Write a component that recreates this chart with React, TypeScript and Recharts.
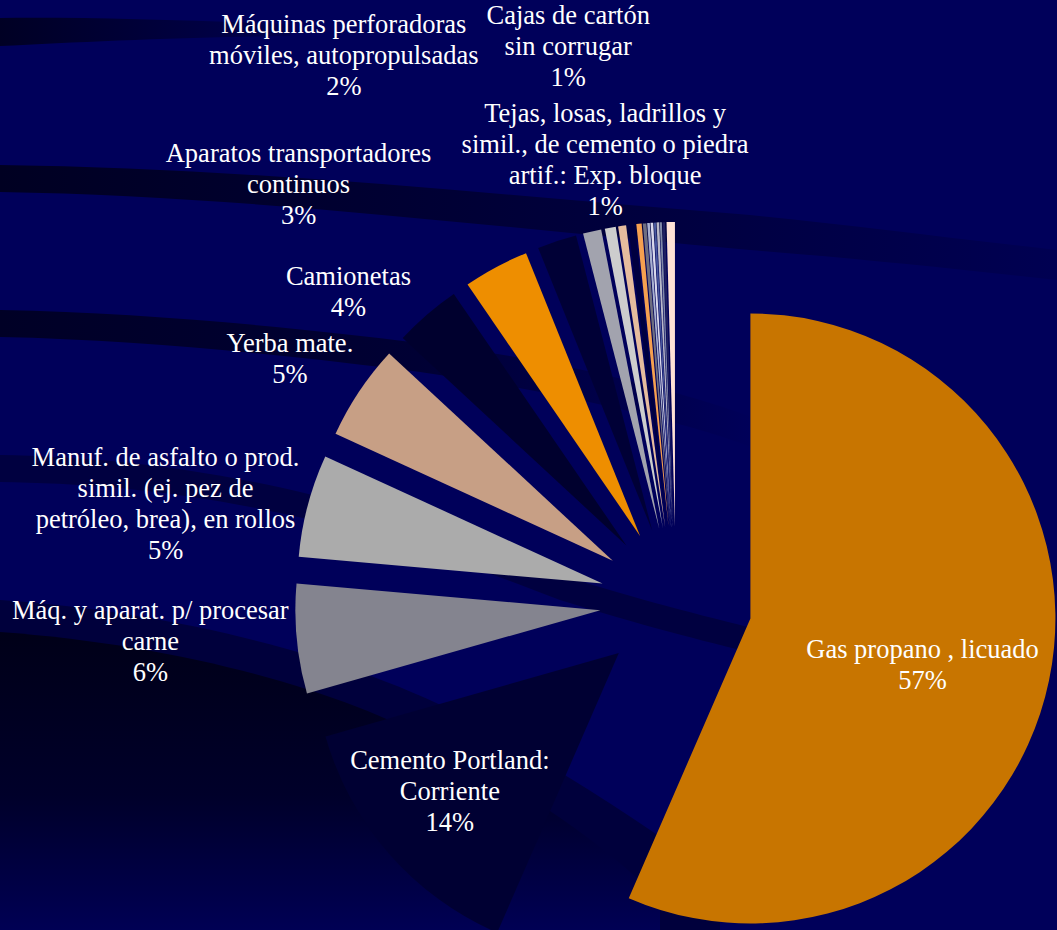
import { PieChart, Pie, Sector } from "recharts";

const CATEGORIES = [
  "Gas propano , licuado",
  "Cemento Portland:\nCorriente",
  "Máq. y aparat. p/ procesar\ncarne",
  "Manuf. de asfalto o prod.\nsimil. (ej. pez de\npetróleo, brea), en rollos",
  "Yerba mate.",
  "Camionetas",
  "Aparatos transportadores\ncontinuos",
  "Máquinas perforadoras\nmóviles, autopropulsadas",
  "Cajas de cartón\nsin corrugar",
  "Tejas, losas, ladrillos y\nsimil., de cemento o piedra\nartif.: Exp. bloque",
  "Otros 1",
  "Otros 2",
  "Otros 3",
  "Otros 4",
  "Otros 5",
  "Otros 6",
  "Otros 7",
  "Otros 8",
  "Otros 9",
  "Otros 10",
  "Otros 11",
];

// participación (%)
const VALUES = [
  56.53, 14.06, 5.81, 5.44, 5.06, 3.53, 3.47, 2.08, 0.97, 0.58,
  0.42, 0.36, 0.28, 0.19, 0.14, 0.14, 0.11, 0.14, 0.11, 0.14, 0.44,
];

const COLORS = [
  "#C87500", "#000033", "#84848F", "#ABABAB", "#C79F85", "#00002E", "#EE8E00",
  "#000036", "#A2A3AE", "#CDCDCD", "#E6BC9E", "#000040", "#F5A050", "#6E6E80",
  "#A8B0D0", "#D8D8EC", "#4858A0", "#B8B8C8", "#8088A8", "#202060", "#FFE2D6",
];

const SHOW_LABEL = [true, true, true, true, true, true, true, true, true, true];

const data = CATEGORIES.map((name, i) => ({ name, value: VALUES[i] }));

const EXPLODE = 76;
const LINE_H = 31;
// [radio, desplazamiento angular] de cada etiqueta
const LABEL_PLACE: [number, number][] = [
  [254, -2.15],
  [294, -1.45],
  [527, -1.3],
  [520, 3.84],
  [457, 1.4],
  [452, 5.63],
  [564, 13.8],
  [641, 13.0],
  [567, -1.77],
  [449, -0.85],
];

const renderSlice = (props: any) => {
  const { cx, cy, midAngle, startAngle, endAngle, outerRadius, index, percent, name } = props;
  const rad = (-midAngle * Math.PI) / 180;
  const sx = cx + EXPLODE * Math.cos(rad);
  const sy = cy + EXPLODE * Math.sin(rad);
  let text = null;
  if (SHOW_LABEL[index]) {
    const [r, da] = LABEL_PLACE[index];
    const a = (-(midAngle + da) * Math.PI) / 180;
    const lx = cx + r * Math.cos(a);
    const ly = cy + r * Math.sin(a);
    const lines = [...String(name).split("\n"), `${Math.round(percent * 100)}%`];
    const y0 = ly - ((lines.length - 1) * LINE_H) / 2;
    text = (
      <text
        textAnchor="middle"
        dominantBaseline="central"
        fill="#ffffff"
        fontFamily="'Liberation Serif', 'Times New Roman', serif"
        fontSize={26.5}
      >
        {lines.map((l, k) => (
          <tspan key={k} x={lx} y={y0 + k * LINE_H}>
            {l}
          </tspan>
        ))}
      </text>
    );
  }
  return (
    <g key={`slice-${index}`}>
      <Sector
        cx={sx}
        cy={sy}
        innerRadius={0}
        outerRadius={outerRadius}
        startAngle={startAngle}
        endAngle={endAngle}
        fill={COLORS[index]}
        stroke="none"
      />
      {text}
    </g>
  );
};

function Backdrop() {
  return (
    <svg width={1057} height={930} style={{ position: "absolute", left: 0, top: 0 }}>
      <defs>
        <linearGradient id="bandB" x1="0" y1="0" x2="1" y2="0">
          <stop offset="0" stopColor="#000022" />
          <stop offset="0.45" stopColor="#000036" />
          <stop offset="1" stopColor="#000052" />
        </linearGradient>
        <linearGradient id="bandC" x1="0" y1="0" x2="1" y2="0">
          <stop offset="0" stopColor="#000026" />
          <stop offset="0.55" stopColor="#000034" />
          <stop offset="1" stopColor="#00005A" />
        </linearGradient>
        <linearGradient id="bandA" x1="0" y1="0" x2="1" y2="0">
          <stop offset="0" stopColor="#000024" />
          <stop offset="1" stopColor="#00004E" />
        </linearGradient>
        <linearGradient id="deep" x1="0" y1="0" x2="0" y2="1">
          <stop offset="0" stopColor="#000018" />
          <stop offset="0.55" stopColor="#00002A" />
          <stop offset="1" stopColor="#000054" />
        </linearGradient>
      </defs>
      <rect width={1057} height={930} fill="#00005A" />
      <path d="M0,18 C80,17 180,20 290,24 L290,36 C180,37 80,42 0,46 Z" fill="url(#bandA)" />
      <path
        d="M0,165 C250,168 500,195 750,215 C850,225 950,238 1057,250 L1057,280 C950,268 850,258 750,250 C500,228 250,196 0,192 Z"
        fill="url(#bandB)"
      />
      <path d="M0,310 C150,313 300,328 420,343 C560,360 680,390 760,420 L760,450 C680,420 560,392 420,372 C300,357 150,340 0,337 Z" fill="url(#bandC)" />
      <path d="M0,455 C150,458 320,480 560,575 C640,600 700,615 760,630 L760,655 C700,640 640,625 560,600 C320,505 150,484 0,482 Z" fill="#000040" />
      <path d="M0,600 C180,612 360,660 470,720 C560,770 640,820 720,880 L720,930 L0,930 Z" fill="#00003C" />
      <path d="M0,632 C180,645 340,690 440,745 C530,795 600,840 660,900 L660,930 L0,930 Z" fill="url(#deep)" />
    </svg>
  );
}

export default function App() {
  return (
    <div style={{ position: "absolute", left: 0, top: 0, width: 1057, height: 930, overflow: "hidden" }}>
      <Backdrop />
      <div style={{ position: "absolute", left: 0, top: 0 }}>
        <PieChart width={1057} height={930} margin={{ top: 0, right: 0, bottom: 0, left: 0 }}>
          <Pie
            data={data}
            dataKey="value"
            nameKey="name"
            cx={676}
            cy={603}
            innerRadius={0}
            outerRadius={305}
            startAngle={90}
            endAngle={-270}
            fill="none"
            stroke="none"
            label={renderSlice}
            labelLine={false}
            isAnimationActive={false}
          />
        </PieChart>
      </div>
    </div>
  );
}
